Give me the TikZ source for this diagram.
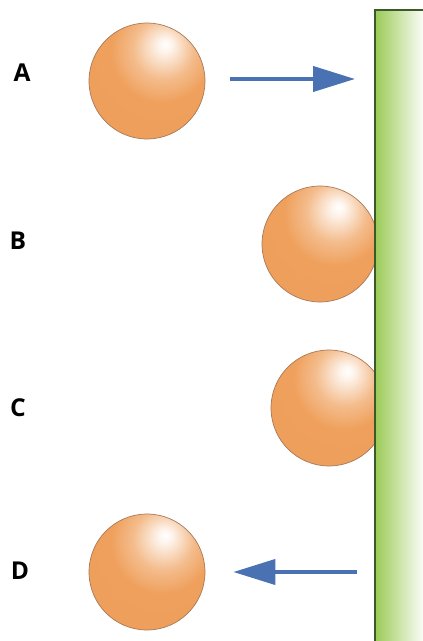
\documentclass[tikz,border=0pt]{standalone}
\usepackage{fontspec}
\setsansfont{Open Sans}
\usepackage{tikz}
\usetikzlibrary{arrows.meta,positioning,calc}

\definecolor{ballorange}{HTML}{EFA05C}
\definecolor{ballrim}{HTML}{A87A58}
\definecolor{wallgreen}{HTML}{9CCB58}
\definecolor{walledge}{HTML}{3A5A2A}
\definecolor{pushblue}{HTML}{4A72B2}

% glossy highlight sitting up and to the right of the centre
\pgfdeclareradialshading{ballshade}{\pgfpoint{8bp}{16bp}}{%
	color(0bp)=(white);
	color(3bp)=(white!88!ballorange);
	color(13bp)=(white!30!ballorange);
	color(22bp)=(ballorange);
	color(100bp)=(ballorange!96!black)}

\begin{document}
\begin{tikzpicture}[x=0.02cm,y=-0.02cm,
	ball/.style={circle,minimum size=2.32cm,inner sep=0pt,draw=ballrim,line width=0.4pt,shade,shading=ballshade},
	tag/.style={font=\sffamily\bfseries\fontsize{14}{16}\selectfont,inner sep=0pt},
	push/.style={draw=pushblue,line width=2.3pt,-{Triangle[length=0.84cm,width=0.5cm]}},
	wall/.style={anchor=north west,inner sep=0pt,minimum width=1cm,minimum height=12.8cm,left color=wallgreen,right color=white}]
\useasboundingbox (0,0) rectangle (422,641);

% labels
\node[tag] (labA) at (22,73) {A};
\node[tag] (labB) at (18,241) {B};
\node[tag] (labC) at (18,408) {C};
\node[tag] (labD) at (20,571) {D};

% balls
\node[ball] (ballA) at (147,81) {};
\node[ball] (ballB) at (320,244) {};
\begin{scope}
	\clip (0,0) rectangle (375,641);
	\node[ball] (ballC) at (329,408) {};
\end{scope}
\node[ball] (ballD) at (147,572) {};

% the wall
\node[wall] (wall) at (375,10) {};
\draw[walledge,line width=1.3pt] (wall.south west) -- (wall.north west) -- (wall.north east);

% motion arrows
\draw[push,shorten <=0.5cm,shorten >=0.4cm] ([yshift=0.04cm]ballA.east) -- ([yshift=0.04cm]ballA.east -| wall.west);
\draw[push,shorten <=0.36cm,shorten >=0.56cm] (ballD.east -| wall.west) -- (ballD.east);
\end{tikzpicture}
\end{document}
